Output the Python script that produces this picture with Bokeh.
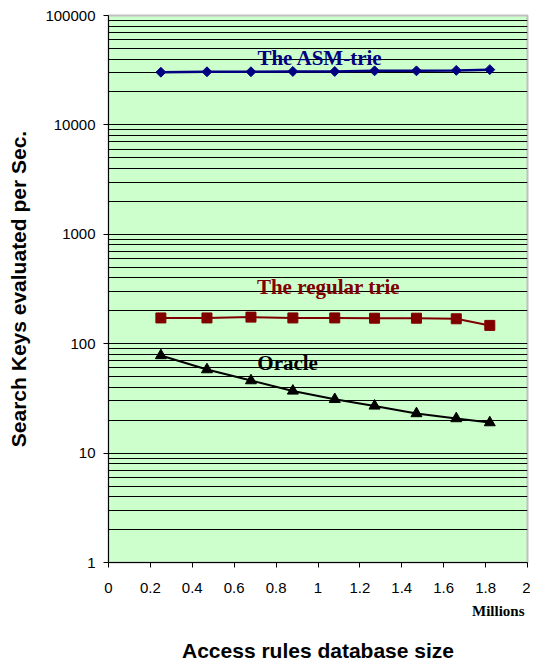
import math
from bokeh.plotting import figure
from bokeh.models import FixedTicker, Label, Range1d, ColumnDataSource, Title
from bokeh.embed import file_html
from bokeh.resources import INLINE

# ---- data ----
db_size_millions = [0.25, 0.47, 0.68, 0.88, 1.08, 1.27, 1.47, 1.66, 1.82]
asm_trie = [30300, 30600, 30600, 30800, 30800, 31200, 31200, 31500, 32000]
regular_trie = [172, 172, 175, 172, 172, 171, 171, 169, 147]
oracle = [78, 58, 46, 37, 31, 27, 23, 20.7, 19]

series_names = ["The ASM-trie", "The regular trie", "Oracle"]
x_ticks = [0, 0.2, 0.4, 0.6, 0.8, 1.0, 1.2, 1.4, 1.6, 1.8, 2.0]
x_tick_labels = ["0", "0.2", "0.4", "0.6", "0.8", "1", "1.2", "1.4", "1.6", "1.8", "2"]
y_ticks = [1, 10, 100, 1000, 10000, 100000]
y_tick_labels = ["1", "10", "100", "1000", "10000", "100000"]
y_minor = [m * d for d in [1, 10, 100, 1000, 10000] for m in range(2, 10)]

p = figure(frame_width=419, frame_height=547, output_backend="svg", toolbar_location=None,
           y_axis_type="log", x_range=Range1d(0, 2), y_range=Range1d(1, 100000),
           min_border_left=108, min_border_right=3, min_border_top=15, min_border_bottom=0)

p.background_fill_color = "#CCFFCC"
p.border_fill_color = "white"
p.outline_line_color = "#C0C0C0"
p.outline_line_width = 2

# axes
p.xaxis.ticker = FixedTicker(ticks=x_ticks)
p.xaxis.major_label_overrides = {t: l for t, l in zip(x_ticks, x_tick_labels)}
p.yaxis.ticker = FixedTicker(ticks=y_ticks, minor_ticks=y_minor)
p.yaxis.major_label_overrides = {t: l for t, l in zip(y_ticks, y_tick_labels)}

for ax in (p.xaxis, p.yaxis):
    ax.axis_line_color = "black"
    ax.axis_line_width = 1
    ax.major_tick_line_color = "black"
    ax.major_tick_in = 0
    ax.major_tick_out = 5
    ax.minor_tick_line_color = None
    ax.major_label_text_font = "Liberation Sans"
    ax.major_label_text_font_size = "15px"
    ax.major_label_text_color = "black"
    ax.axis_label_text_font = "Liberation Sans"
    ax.axis_label_text_font_style = "bold"
    ax.axis_label_text_color = "black"

p.yaxis.axis_label_text_font_size = "21px"
p.xaxis.major_label_standoff = 15
p.yaxis.major_label_standoff = 8
p.yaxis.axis_label = "Search Keys evaluated per Sec."
p.yaxis.axis_label_standoff = 12

# x-axis caption rows below the tick labels
p.add_layout(Title(text="Millions", align="right", offset=3, standoff=11,
                   text_font="Liberation Serif", text_font_style="bold",
                   text_font_size="15px", text_color="black"), "below")
p.add_layout(Title(text="Access rules database size", align="center", standoff=25,
                   text_font="Liberation Sans", text_font_style="bold",
                   text_font_size="21px", text_color="black"), "below")

p.xgrid.grid_line_color = None
p.ygrid.grid_line_color = "black"
p.ygrid.grid_line_width = 1
p.ygrid.minor_grid_line_color = "black"
p.ygrid.minor_grid_line_width = 1

# series
src = ColumnDataSource(dict(x=db_size_millions, asm=asm_trie, reg=regular_trie, ora=oracle))

p.line("x", "asm", source=src, line_color="#000080", line_width=2.5)
p.scatter("x", "asm", source=src, marker="square", angle=math.pi / 4, size=7,
          fill_color="#000080", line_color="#000080")

p.line("x", "reg", source=src, line_color="#800000", line_width=2)
p.scatter("x", "reg", source=src, marker="square", size=10,
          fill_color="#800000", line_color="#800000")

p.line("x", "ora", source=src, line_color="black", line_width=2)
p.scatter("x", "ora", source=src, marker="triangle", size=11,
          fill_color="black", line_color="black")

# series labels
label_style = dict(text_font="Liberation Serif", text_font_style="bold",
                   text_font_size="21px", text_align="center", text_baseline="middle")
p.add_layout(Label(x=1.01, y=41300, text=series_names[0], text_color="#000080", **label_style))
p.add_layout(Label(x=1.05, y=327, text=series_names[1], text_color="#800000", **label_style))
p.add_layout(Label(x=0.855, y=66, text=series_names[2], text_color="black", **label_style))

open("out.html", "w").write(file_html(p, INLINE))
